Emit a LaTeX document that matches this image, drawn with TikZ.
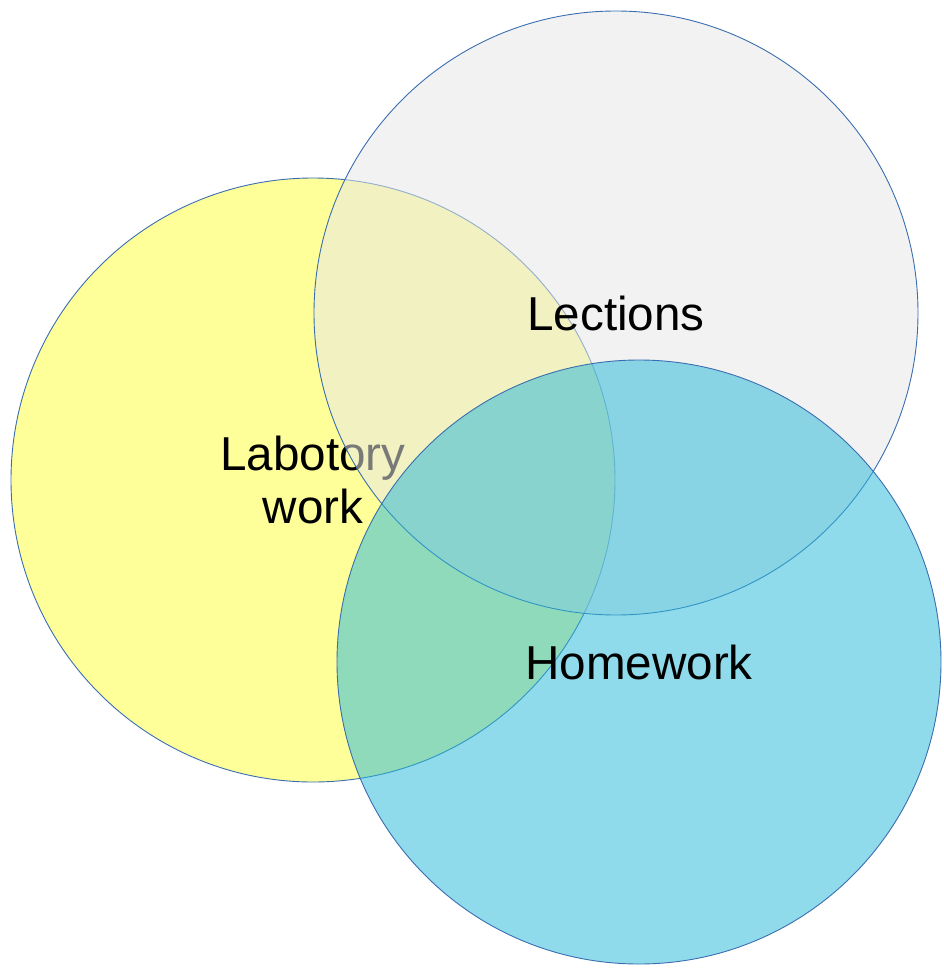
\documentclass[tikz,border=0pt]{standalone}
\usepackage{fontspec}
\setmainfont{Liberation Sans}
\usetikzlibrary{positioning}
\definecolor{labyellow}{HTML}{FFFF99}
\definecolor{lecgrey}{HTML}{E6E6E6}
\definecolor{hwblue}{RGB}{40,185,217}
\definecolor{rimblue}{HTML}{3A6EB0}

\begin{document}
\begin{tikzpicture}[x=1pt,y=-1pt]
%% set shape and text style
\tikzstyle{set}=[circle,minimum size=604pt,inner sep=0pt,draw=rimblue,line width=0.9pt]
\tikzstyle{setname}=[align=center,font=\fontsize{47.6}{53}\selectfont,text=black]
\useasboundingbox (0,0) rectangle (944,970);

%% sets, each one drawn with its name before the next one covers it
\foreach \name/\x/\y/\col/\op/\txt in {Lab/313/480/labyellow/1/{Labotory\\work},Lec/616/313/lecgrey/0.53/Lections,Hw/639/662/hwblue/0.52/Homework}
{
\node[set,fill=\col,fill opacity=\op] (S-\name) at (\x,\y) {};
\node[setname] (T-\name) at (S-\name.center) {\txt};
}
\end{tikzpicture}
\end{document}
